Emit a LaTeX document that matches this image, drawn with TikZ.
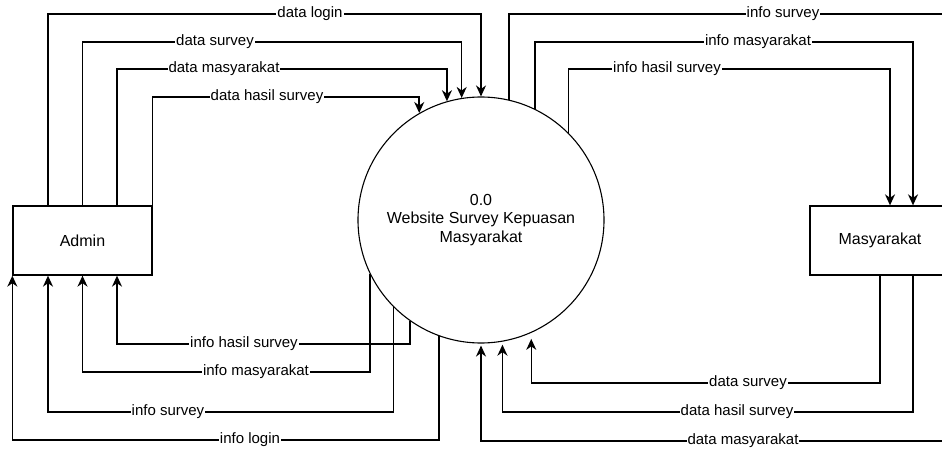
\documentclass[tikz,border=0pt]{standalone}
\usepackage{fontspec}
\setmainfont{Liberation Sans}
\usetikzlibrary{arrows.meta}

\begin{document}
\begin{tikzpicture}[x=1pt,y=-1pt,
    entity/.style={draw,line width=1.3pt,minimum width=139pt,minimum height=69pt,
      font=\fontsize{16}{19}\selectfont},
    process/.style={draw,circle,line width=1.1pt,minimum size=246pt,inner sep=0pt,
      align=center,font=\fontsize{16}{18.5}\selectfont},
    flow/.style={line width=1.5pt,-{Stealth[length=11pt,width=10pt,inset=3.5pt]}},
    lbl/.style={fill=white,inner sep=1pt,font=\fontsize{15}{18}\selectfont}]
        \useasboundingbox (0,0) rectangle (942,457);
        \clip (0,0) rectangle (942,457);

        \node[process] (proc) at (481,220) {0.0\\Website Survey Kepuasan\\Masyarakat};
        \node[entity] (admin) at (82.5,240.5) {Admin};
        \node[entity,minimum width=140pt] (masy) at (880,240.5) {Masyarakat};

        % admin ke sistem
        \draw[flow] ([xshift=-34.5pt]admin.north) |- (310,14) node[lbl]{data login} -| (proc.north);
        \draw[flow] (admin.north) |- (215,42) node[lbl]{data survey} -| (proc.99.4);
        \draw[flow] ([xshift=34.5pt]admin.north) |- (224,69) node[lbl]{data masyarakat} -| (proc.106);
        \draw[flow] (admin.north east) |- (267,97) node[lbl]{data hasil survey} -| (proc.120.8);

        % sistem ke masyarakat
        \draw[flow] (proc.77.3) |- (783,14) node[lbl]{info survey} -| ([xshift=72pt]masy.north);
        \draw[flow] (proc.64) |- (758,42) node[lbl]{info masyarakat} -| ([xshift=33pt]masy.north);
        \draw[flow] (proc.45) |- (667,69) node[lbl]{info hasil survey} -| ([xshift=10pt]masy.north);

        % sistem ke admin
        \draw[flow] (proc.235.9) |- (244,344) node[lbl]{info hasil survey} -| ([xshift=34.5pt]admin.south);
        \draw[flow] (proc.206.6) |- (256,372) node[lbl]{info masyarakat} -| (admin.south);
        \draw[flow] (proc.225) |- (168,412) node[lbl]{info survey} -| ([xshift=-34.5pt]admin.south);
        \draw[flow] (proc.250.5) |- (250,440) node[lbl]{info login} -| (admin.south west);

        % masyarakat ke sistem
        \draw[flow,shorten >=6pt] (masy.south) |- (748,383) node[lbl]{data survey} -| (proc.294.5);
        \draw[flow,shorten >=3pt] ([xshift=33pt]masy.south) |- (737,412) node[lbl]{data hasil survey} -| (proc.280.5);
        \draw[flow,shorten >=2pt] ([xshift=72pt]masy.south) |- (743,441) node[lbl]{data masyarakat} -| (proc.south);
       \end{tikzpicture}
\end{document}
